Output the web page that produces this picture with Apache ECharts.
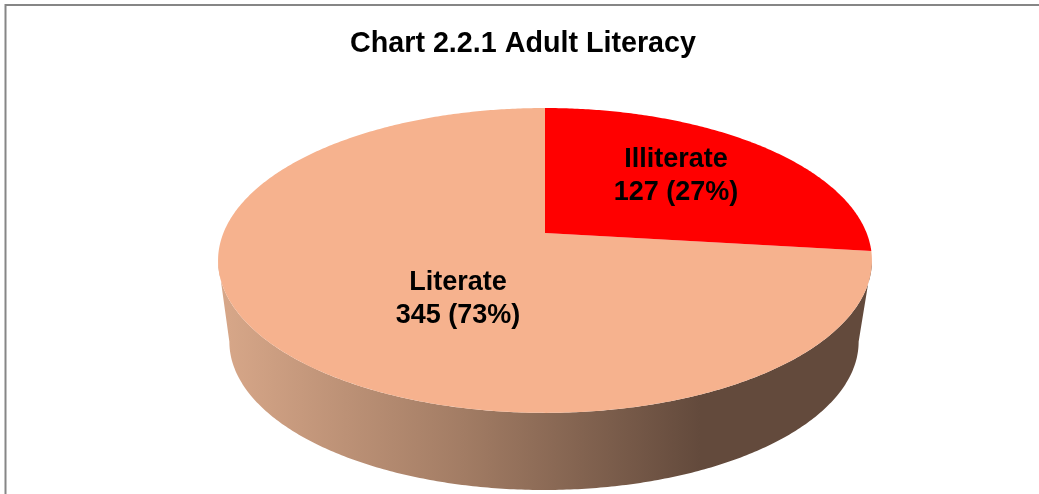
<!DOCTYPE html>
<html>

<head>
  <meta charset="utf-8">
  <title>Chart 2.2.1 Adult Literacy</title>
  <style>
    html, body { margin: 0; padding: 0; background: #fff; }
    #chart { width: 1039px; height: 494px; }
  </style>
  <script src="https://cdn.jsdelivr.net/npm/echarts@6/dist/echarts.min.js"></script>
</head>

<body>
  <div id="chart"></div>
  <script>
    // chart data
    var categories = ['Illiterate', 'Literate'];
    var values = [127, 345];
    var sliceColors = ['#FF0000', '#F6B28E'];
    var titleText = 'Chart 2.2.1 Adult Literacy';

    // layout of the tilted pie, in page pixels
    var labelCenters = [[676, 176], [458, 299]];
    var persp = 0.18;
    var topFace = { cx: 545, cy: 233, a: 321.6, b: 147.5 };
    var baseFace = { cx: 544, cy: 315, a: 309.5, b: 143.5 };

    var total = values.reduce(function (s, v) { return s + v; }, 0);

    // angle is clockwise from twelve o'clock
    function project(face, ang, r) {
      var u = r * Math.sin(ang), v = -r * Math.cos(ang);
      var w = 1 - persp * v;
      return [face.cx + face.a * u / w, face.cy + face.b * v / w];
    }

    function arcPoints(face, from, to) {
      var pts = [];
      var n = Math.max(2, Math.ceil(Math.abs(to - from) / 0.01));
      for (var i = 0; i <= n; i++) {
        pts.push(project(face, from + (to - from) * i / n, 1));
      }
      return pts;
    }

    var rimFill = new echarts.graphic.LinearGradient(228, 0, 700, 0, [
      { offset: 0, color: '#D6A688' },
      { offset: 0.5, color: '#A27C64' },
      { offset: 1, color: '#634A3C' }
    ], true);

    // the widest points of the ellipse, where the side wall starts and stops
    var rimLimit = Math.acos(-persp);

    function renderSlice(params, api) {
      var i = params.dataIndex;
      var before = 0;
      for (var j = 0; j < i; j++) before += values[j];
      var start = before / total * Math.PI * 2;
      var end = (before + api.value(0)) / total * Math.PI * 2;
      var children = [];

      // side wall, only the part that faces the viewer
      var rimFrom = Math.max(start, rimLimit), rimTo = Math.min(end, Math.PI * 2 - rimLimit);
      if (rimTo > rimFrom) {
        children.push({
          type: 'polygon',
          z2: 1,
          shape: { points: arcPoints(topFace, rimFrom, rimTo).concat(arcPoints(baseFace, rimTo, rimFrom)) },
          style: { fill: rimFill }
        });
      }

      children.push({
        type: 'polygon',
        z2: i === 0 ? 3 : 2,
        shape: { points: [project(topFace, 0, 0)].concat(arcPoints(topFace, start, end)) },
        style: { fill: sliceColors[i] }
      });

      children.push({
        type: 'text',
        z2: 5,
        x: labelCenters[i][0],
        y: labelCenters[i][1],
        style: {
          text: categories[i] + '\n' + api.value(0) + ' (' + Math.round(api.value(0) / total * 100) + '%)',
          fill: '#000',
          font: 'bold 27px "Liberation Sans", Arial, sans-serif',
          align: 'center',
          verticalAlign: 'middle',
          lineHeight: 33
        }
      });

      return { type: 'group', children: children };
    }

    var chart = echarts.init(document.getElementById('chart'), null, { renderer: 'canvas' });
    chart.setOption({
      backgroundColor: '#FFFFFF',
      animation: false,
      title: {
        text: titleText,
        left: 518,
        top: 25,
        textAlign: 'center',
        textStyle: { fontFamily: '"Liberation Sans", Arial, sans-serif', fontWeight: 'bold', fontSize: 28.7, color: '#000' }
      },
      // frame of the original chart, runs off the right and bottom of the crop
      graphic: [{
        type: 'rect',
        silent: true,
        shape: { x: 5.5, y: 5, width: 1100, height: 600 },
        style: { fill: 'transparent', stroke: '#868686', lineWidth: 2 }
      }],
      series: [{
        type: 'custom',
        coordinateSystem: 'none',
        renderItem: renderSlice,
        data: values.map(function (v) { return [v]; })
      }]
    });
  </script>
</body>

</html>
